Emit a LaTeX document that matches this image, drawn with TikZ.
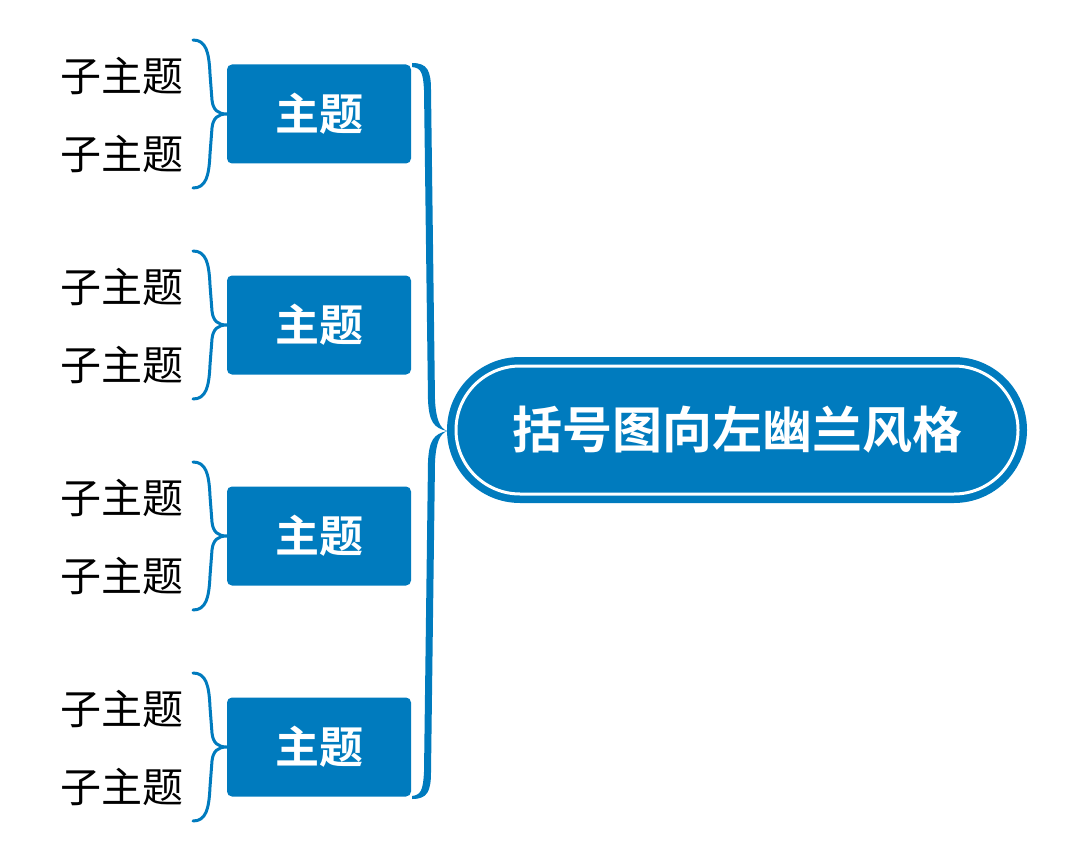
\documentclass[tikz,border=0pt]{standalone}
\usepackage{fontspec}
\newfontfamily\cjk{Noto Sans CJK SC}
\newfontfamily\cjkb{Noto Sans CJK SC Bold}
\definecolor{mblue}{RGB}{0,123,190}
\begin{document}
\begin{tikzpicture}[x=1pt,y=-1pt,
  topic/.style={fill=mblue,rounded corners=5pt,minimum width=184pt,minimum height=99pt,inner sep=0pt,text=white,font=\cjkb\fontsize{44}{48}\selectfont},
  sub/.style={font=\cjk\fontsize{41}{45}\selectfont,text=black,inner sep=0pt},
  brace/.style={draw=mblue,line width=3pt,line cap=round,line join=round}]
\useasboundingbox (0,0) rectangle (1075,861);
% central
\node[fill=mblue,rounded corners=73pt,minimum width=580pt,minimum height=146pt,inner sep=0pt] (cbg) at (737,430) {};
\node[draw=white,line width=3pt,fill=mblue,rounded corners=64pt,minimum width=562pt,minimum height=128pt,inner sep=0pt,text=white,font=\cjkb\fontsize{50}{54}\selectfont] (c) at (737,430) {括号图向左幽兰风格};
% big brace
\coordinate (bt) at (412,67);
\coordinate (bb) at (412,796);
\coordinate (tip) at (447,431);
\fill[mblue] (bt) -- (412,63) .. controls (427,63) and (431,70) .. (431,90)
  -- (435,400) .. controls (436,420) and (440,428) .. (tip)
  .. controls (440,434) and (436,442) .. (435,462)
  -- (431,772) .. controls (431,792) and (427,799) .. (412,799) -- (bb)
  .. controls (421,795) and (423,790) .. (424,772)
  -- (428,462) .. controls (429,440) and (434,434) .. (tip)
  .. controls (434,428) and (429,422) .. (428,400)
  -- (424,90) .. controls (423,72) and (421,68) .. (bt) -- cycle;
\foreach \i/\y in {1/114,2/325,3/536,4/747}{
  \node[topic] (t\i) at (319,\y) {主题};
  \node[sub] (s\i a) at (122,\y-38) {子主题};
  \node[sub] (s\i b) at (122,\y+40) {子主题};
  \coordinate (u\i) at (193,\y-74);
  \coordinate (d\i) at (193,\y+74);
  \draw[brace] (u\i) .. controls (206,\y-74) and (209,\y-62) .. (210,\y-40)
     -- (212,\y-14) .. controls (213,\y-4) and (218,\y) .. (t\i.west)
     .. controls (218,\y) and (213,\y+4) .. (212,\y+14)
     -- (210,\y+40) .. controls (209,\y+62) and (206,\y+74) .. (d\i);
}
\end{tikzpicture}
\end{document}
